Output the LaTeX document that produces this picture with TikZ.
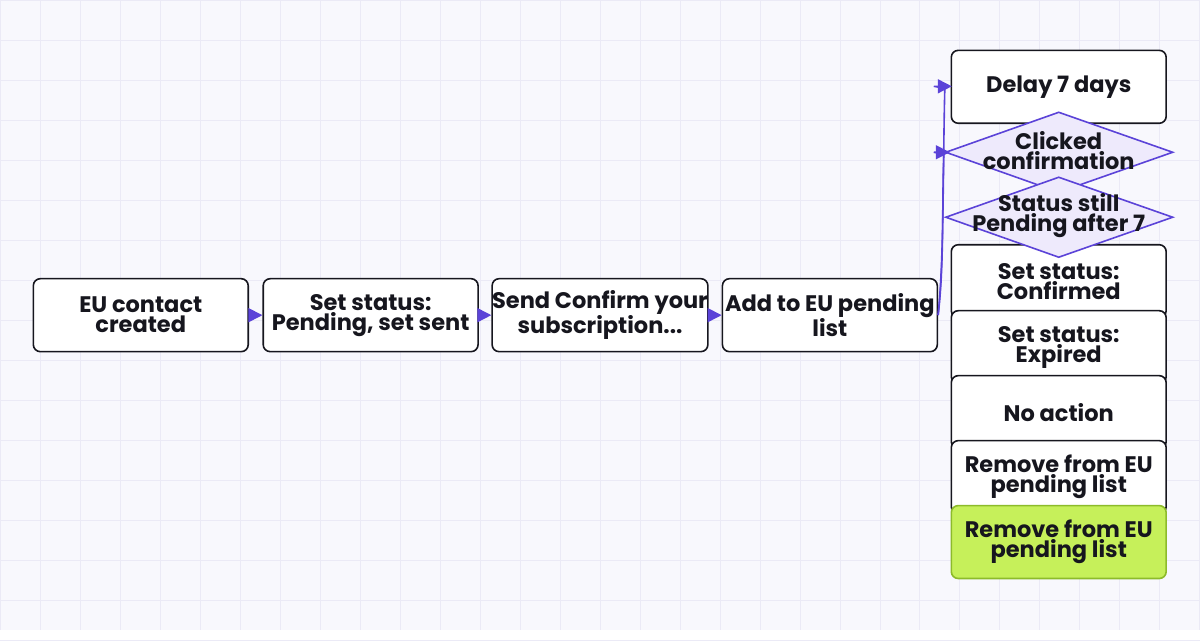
\documentclass[tikz,border=0pt]{standalone}
\usepackage{fontspec}
\setmainfont{Poppins}
\usetikzlibrary{shapes.geometric,arrows.meta}
\definecolor{bg}{HTML}{F8F8FD}
\definecolor{gridc}{HTML}{EBEAF6}
\definecolor{purp}{HTML}{5B43D8}
\definecolor{dfill}{HTML}{EEEAFC}
\definecolor{green}{HTML}{C6F05A}
\definecolor{greenb}{HTML}{8DBB2A}
\definecolor{ink}{HTML}{16161E}
\begin{document}
\begin{tikzpicture}[x=1pt,y=-1pt,
  txt/.style={font=\fontsize{22.5}{20}\selectfont\bfseries, text=ink, align=center},
  box/.style={txt, draw=ink, line width=1.6pt, rounded corners=7pt, fill=white, minimum width=215pt, minimum height=73pt, inner sep=0pt},
  dia/.style={draw=purp, line width=1.6pt, fill=dfill},
  arr/.style={draw=purp, line width=1.6pt, -{Triangle[length=14pt,width=14pt]}}]
\fill[bg] (0,0) rectangle (1200,630);
\foreach \i in {0,40,...,1200} \draw[gridc, line width=0.7pt] (\i,0) -- (\i,630);
\foreach \i in {0,40,...,640} \draw[gridc, line width=0.7pt] (0,\i) -- (1200,\i);
\useasboundingbox (0,0) rectangle (1200,630);
\node[box] (a) at (140.5,315) {EU contact\\created};
\node[box] (b) at (370.5,315) {Set status:\\Pending, set sent};
\node[box] (c) at (600,315) {Send Confirm your\\subscription...};
\node[box] (d) at (830,315) {Add to EU pending\\list};
\node[box] (e) at (1059,86.5) {Delay 7 days};
\node[box] (h) at (1059,281) {Set status:\\Confirmed};
\node[box] (i) at (1059,347) {Set status:\\Expired};
\node[box] (j) at (1059,412) {No action};
\node[box] (k) at (1059,477) {Remove from EU\\pending list};
\node[box, fill=green, draw=greenb] (l) at (1059,542) {Remove from EU\\pending list};
\draw[dia] (946,152) -- (1059,112) -- (1173,152) -- (1059,192) -- cycle;
\node[txt] (f) at (1059,150) {Clicked\\confirmation};
\draw[dia] (946,217) -- (1059,177) -- (1173,217) -- (1059,257) -- cycle;
\node[txt] (g) at (1059,215) {Status still\\Pending after 7};
\coordinate (fw) at (950,152);
\coordinate (ew) at (952,86);
\draw[arr] (d.east) .. controls +(6,-60) and +(-2,80) .. (945,88) -- (934,86) -- (ew);
\draw[arr] (d.east) .. controls +(6,-50) and +(-2,60) .. (944,154) -- (934,152) -- (fw);
\draw[arr] (a.east) -- (b.west);
\draw[arr] (b.east) -- (c.west);
\draw[arr] (c.east) -- (d.west);
\end{tikzpicture}
\end{document}
